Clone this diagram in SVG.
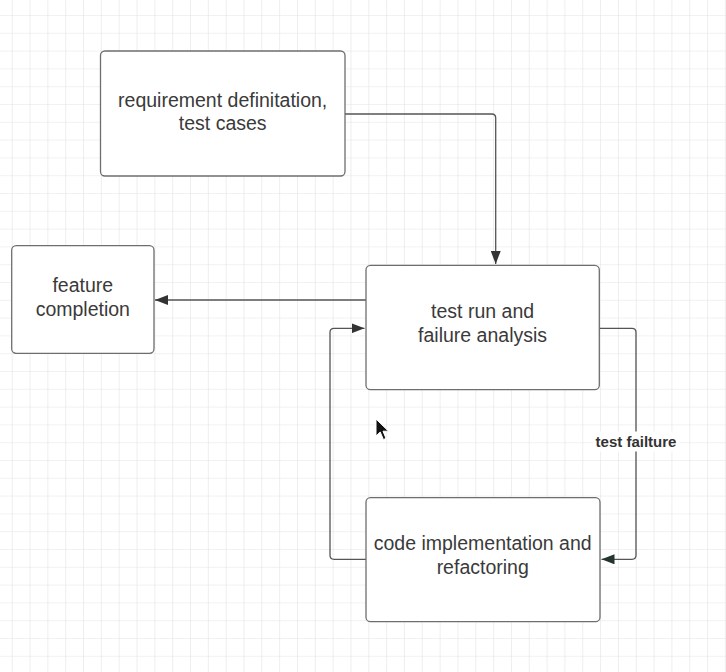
<svg xmlns="http://www.w3.org/2000/svg" width="726" height="672" viewBox="0 0 726 672">
<defs>
<pattern id="grid" x="11.7" y="15" width="17.83" height="17.8" patternUnits="userSpaceOnUse">
<path d="M0 0V17.8M0 0H17.83" fill="none" stroke="#e3e3e3" stroke-width="1.2"/>
</pattern>
<marker id="arr" markerUnits="userSpaceOnUse" markerWidth="14" markerHeight="10" refX="13" refY="5" orient="auto">
<path d="M0 0L13 5L0 10Z" fill="#333333"/>
</marker>
<marker id="arr2" markerUnits="userSpaceOnUse" markerWidth="14" markerHeight="10" refX="13" refY="5" orient="auto">
<path d="M0 0L13 5L0 10Z" fill="#243530"/>
</marker>
<style>
.box{fill:#ffffff;stroke:#6e6e6e;stroke-width:1.3}
.lbl{font-family:"Liberation Sans",Arial,sans-serif;font-size:19.5px;fill:#3a3a3a;text-anchor:middle}
.edge{fill:none;stroke:#555555;stroke-width:1.3}
.elbl{font-family:"Liberation Sans",Arial,sans-serif;font-size:15px;font-weight:bold;fill:#333333;text-anchor:middle}
</style>
</defs>
<rect width="726" height="672" fill="#ffffff"/>
<rect width="726" height="672" fill="url(#grid)"/>

<g id="connectors">
<path class="edge" d="M345 114H491.7Q495.7 114 495.7 118V264" marker-end="url(#arr)"/>
<path class="edge" d="M366 300H155" marker-end="url(#arr)"/>
<path class="edge" d="M366 559.3H334Q330 559.3 330 555.3V332.3Q330 328.3 334 328.3H364.5" marker-end="url(#arr)"/>
<path class="edge" d="M599.3 328.3H632Q636 328.3 636 332.3V555.3Q636 559.3 632 559.3H601.5" marker-end="url(#arr2)"/>
<g id="edge-label">
<rect x="593" y="431.5" width="86" height="20" fill="#ffffff"/>
<text class="elbl" x="636" y="447">test failture</text>
</g>
</g>

<g id="node-requirements">
<rect class="box" x="100.5" y="51" width="244.5" height="125" rx="4.5"/>
<text class="lbl" x="222.7" y="106.7">requirement definitation,</text>
<text class="lbl" x="222.7" y="130">test cases</text>
</g>

<g id="node-feature">
<rect class="box" x="11.7" y="245.7" width="142.3" height="107.6" rx="4.5"/>
<text class="lbl" x="82.8" y="291.7">feature</text>
<text class="lbl" x="82.8" y="315.5">completion</text>
</g>

<g id="node-testrun">
<rect class="box" x="366" y="265.3" width="233.3" height="124.4" rx="4.5"/>
<text class="lbl" x="482.6" y="318.3">test run and</text>
<text class="lbl" x="482.6" y="341.5">failure analysis</text>
</g>

<g id="node-code">
<rect class="box" x="366" y="497.7" width="234" height="124" rx="4.5"/>
<text class="lbl" x="482.7" y="550.3">code implementation and</text>
<text class="lbl" x="482.7" y="573.5">refactoring</text>
</g>

<g id="cursor">
<path d="M376 419V436L380.2 432L383.4 439.5L386 438.4L383 431.2H388.5Z" fill="#111111" stroke="#ffffff" stroke-width="1"/>
</g>
</svg>
